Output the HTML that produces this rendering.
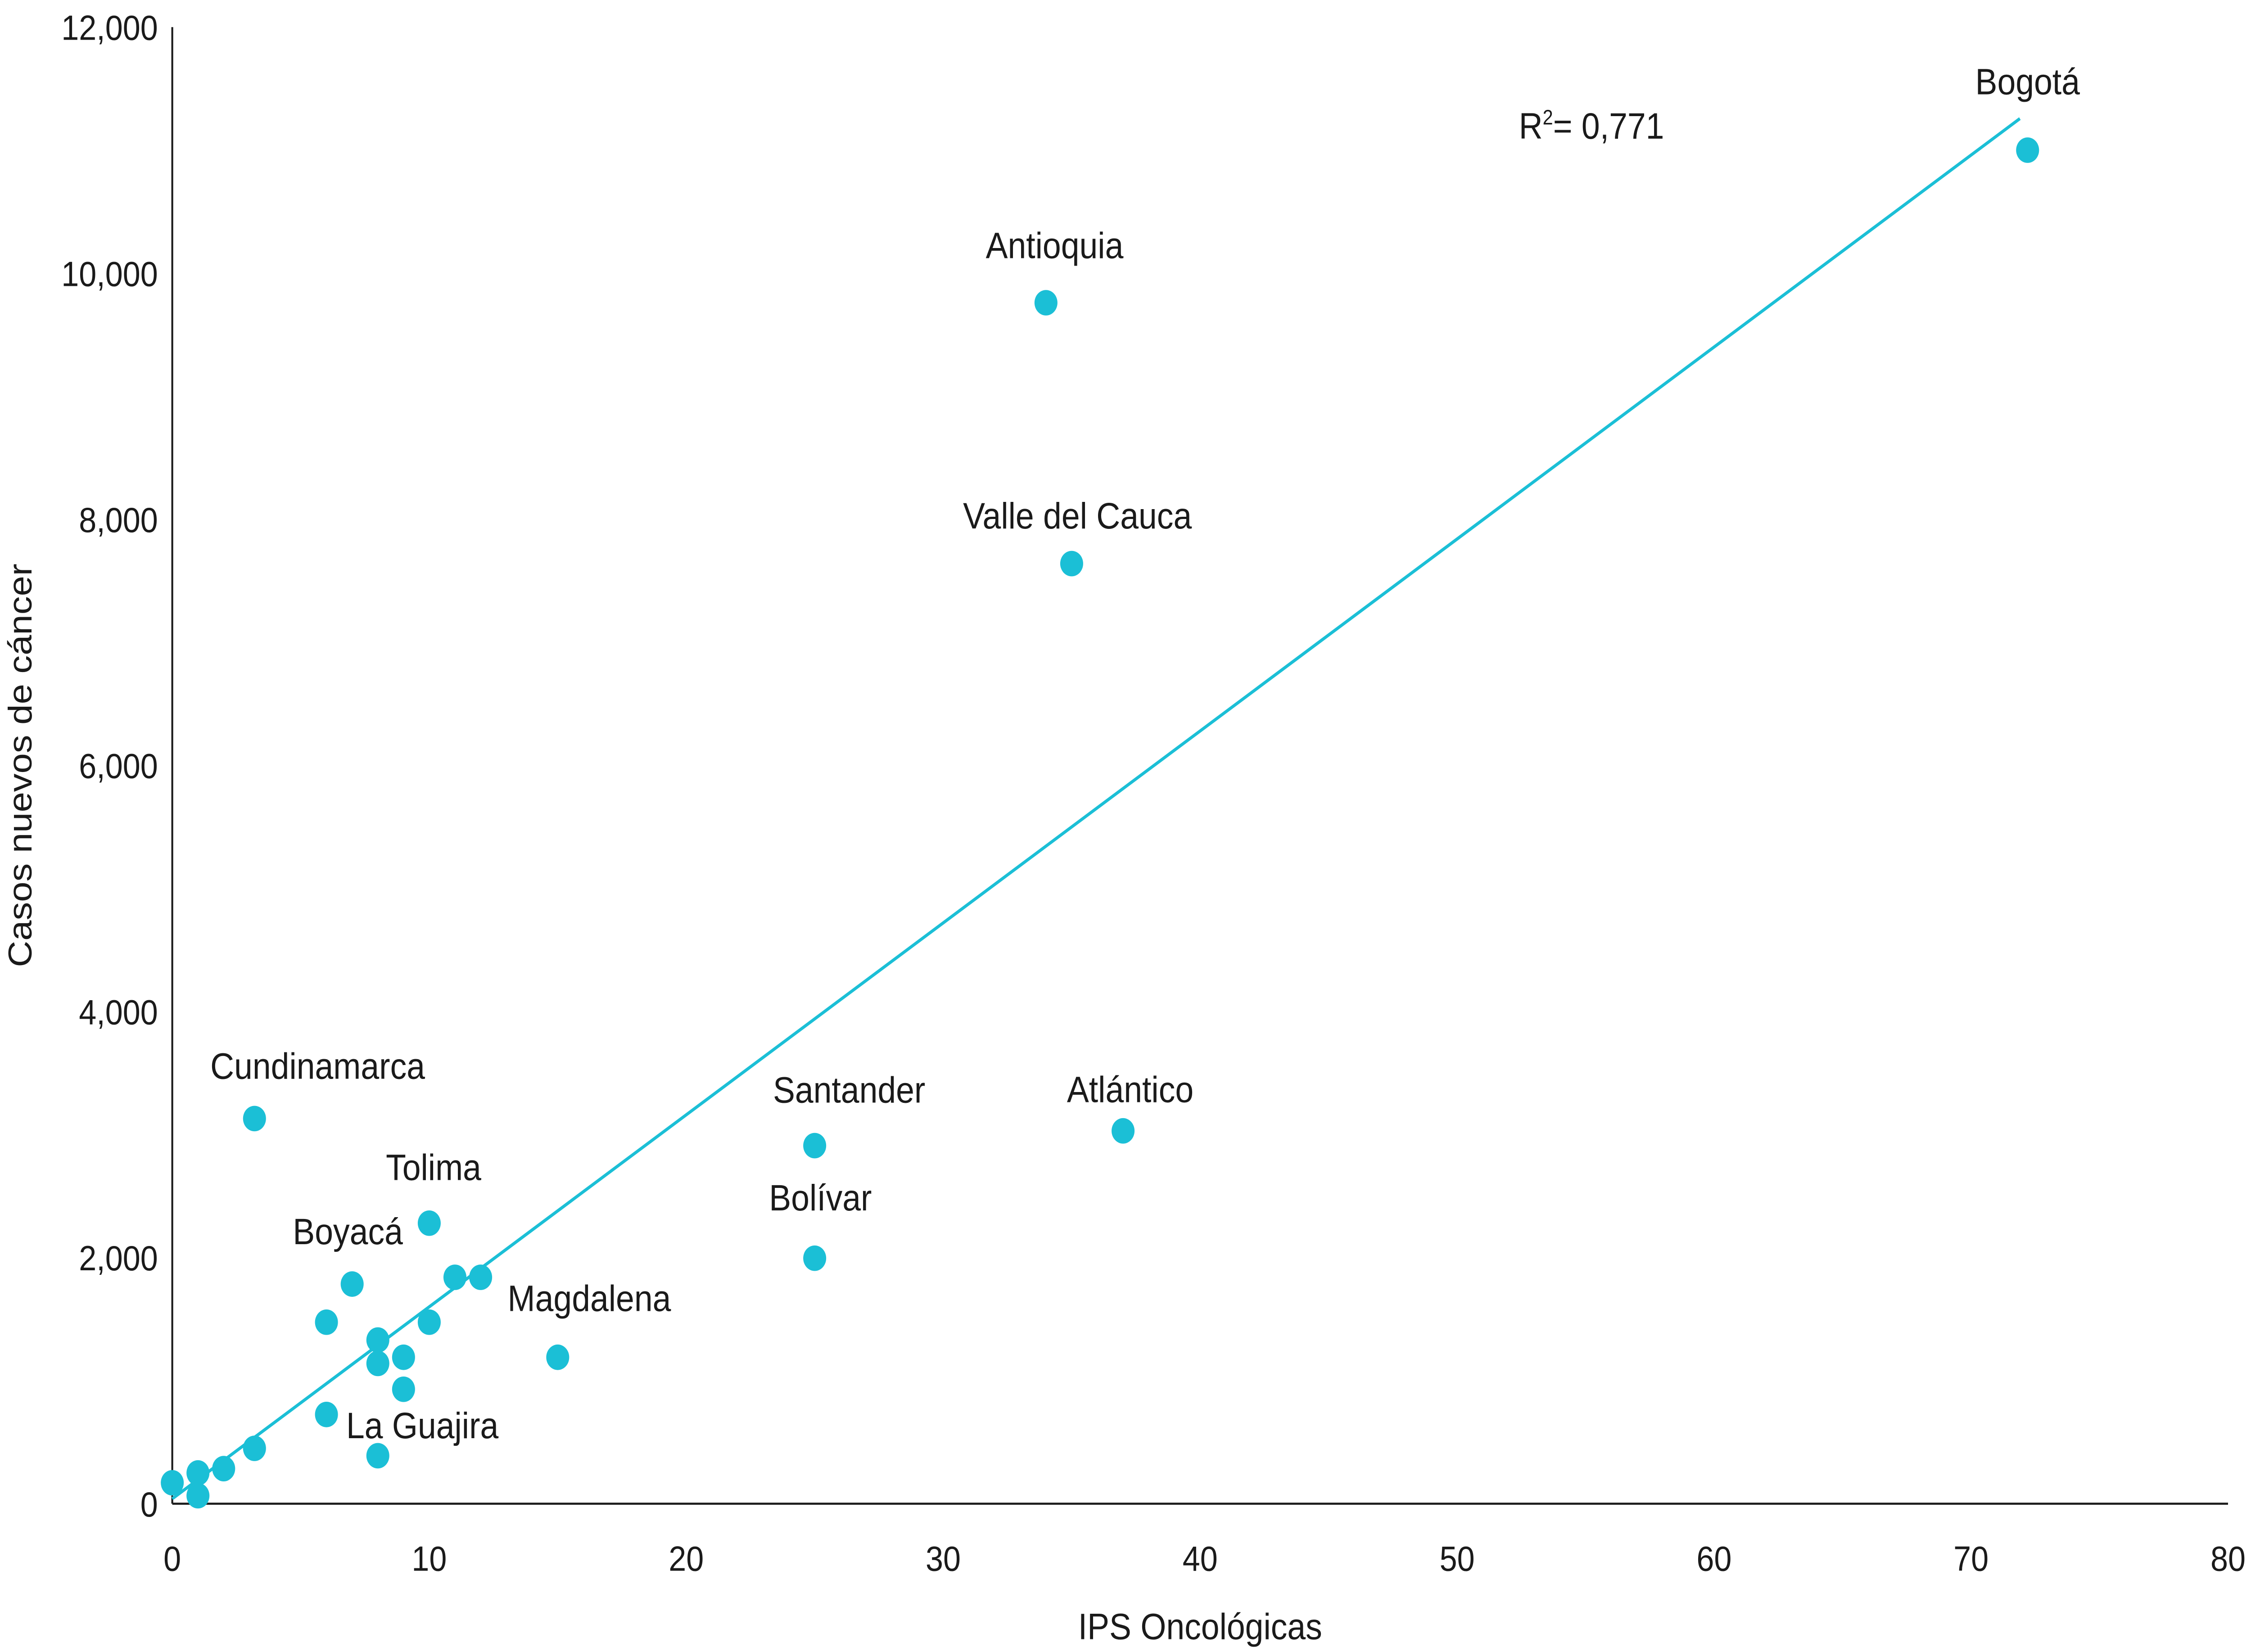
<!DOCTYPE html>
<html><head><meta charset="utf-8"><style>
html,body{margin:0;padding:0;background:#fff;width:100%;height:100%;overflow:hidden;}
svg{display:block;position:fixed;left:0;top:0;width:100vw;height:100vh;}
text{font-family:"Liberation Sans",sans-serif;fill:#1a1a1a;}
</style></head><body>
<svg id="chart" viewBox="0 0 1568 1036" preserveAspectRatio="none" xmlns="http://www.w3.org/2000/svg">
<g id="axes"></g>
<g id="trend"></g>
<g id="points"></g>
<g id="labels"></g>
<text x="1058" y="87" font-size="23">R<tspan font-size="13" dy="-9">2</tspan><tspan dy="9">= 0,771</tspan></text>
<text x="836" y="1028" font-size="23" text-anchor="middle">IPS Oncológicas</text>
<text transform="translate(22,480) rotate(-90)" font-size="23" text-anchor="middle">Casos nuevos de cáncer</text>
</svg>
<script>
const xTicks = [0,10,20,30,40,50,60,70,80];
const yTicks = [0,2000,4000,6000,8000,10000,12000];
const yTickLabels = ["0","2,000","4,000","6,000","8,000","10,000","12,000"];
const ipsValues = [0,1,1,2,3.2,6,8,9,8,9,8,6,10,7,11,12,10,15,3.2,25,25,37,35,34,72.2];
const casesValues = [170,250,65,285,450,725,390,930,1140,1190,1330,1475,1475,1785,1840,1840,2280,1190,3130,1995,2910,3030,7640,9760,11000];
const labelNames = ["Bogotá","Antioquia","Valle del Cauca","Cundinamarca","Santander","Atlántico","Bolívar","Tolima","Boyacá","Magdalena","La Guajira"];
const labelX = [72.2,34,35,3.2,25,37,25,10,7,15,8];
const labelY = [11000,9760,7640,3130,2910,3030,1995,2280,1785,1190,390];
const labelDx = [0,6,4,44,24,5,4,3,-3,22,31];
const labelDy = [-35,-28,-22,-25,-27,-18,-30,-27,-25,-29,-11];
const trendSlope = 156, trendIntercept = 40, trendXmax = 71.9;

const NS="http://www.w3.org/2000/svg";
const X0=120,X1=1552,Y0=943,Y1=17;
function sx(v){return X0+(v-0)/80*(X1-X0);}
function sy(v){return Y0-(v/12000)*(Y0-Y1);}
function mk(tag,attrs,parent){const e=document.createElementNS(NS,tag);for(const k in attrs)e.setAttribute(k,attrs[k]);parent.appendChild(e);return e;}
const axes=document.getElementById('axes');
let l=mk('line',{x1:X0,y1:Y1,x2:X0,y2:Y0,stroke:'#1a1a1a','stroke-width':1.3},axes);


l=mk('line',{x1:X0,y1:Y0,x2:X1,y2:Y0,stroke:'#1a1a1a','stroke-width':1.3},axes);


xTicks.forEach(t=>{const e=mk('text',{x:sx(t),y:985,'font-size':22,'text-anchor':'middle'},axes);e.textContent=t;

});
yTicks.forEach((t,i)=>{const e=mk('text',{x:110,y:sy(t)+8,'font-size':22,'text-anchor':'end'},axes);e.textContent=yTickLabels[i];

});
const tr=mk('line',{x1:sx(0),y1:sy(trendIntercept),x2:sx(trendXmax),y2:sy(trendIntercept+trendSlope*trendXmax),stroke:'#1bbfd6','stroke-width':2},document.getElementById('trend'));


const pts=document.getElementById('points');
ipsValues.forEach((v,i)=>{const c=mk('circle',{cx:sx(v),cy:sy(casesValues[i]),r:8,fill:'#1bbfd6'},pts);

});
const lg=document.getElementById('labels');
labelNames.forEach((n,i)=>{const e=mk('text',{x:sx(labelX[i])+labelDx[i],y:sy(labelY[i])+labelDy[i],'font-size':23,'text-anchor':'middle'},lg);e.textContent=n;

});
</script>
</body></html>
